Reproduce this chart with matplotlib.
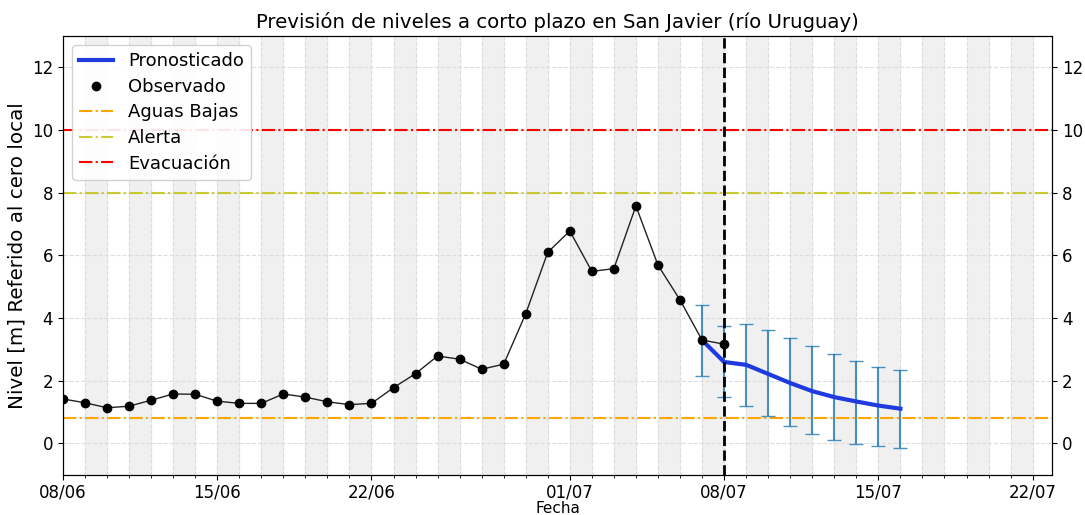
""" Forecast plot for San Javier (rio Uruguay) """
import numpy as np
import matplotlib
import matplotlib.pyplot as plt
import matplotlib.dates as mdates
import pandas as pd

matplotlib.use('Agg')

# observed levels, daily from 08/06
obs_start = '2023-06-08'
obs_values = [1.42, 1.30, 1.14, 1.19, 1.38, 1.58, 1.57, 1.35, 1.28, 1.28,
              1.58, 1.48, 1.33, 1.24, 1.28, 1.78, 2.23, 2.79, 2.69, 2.37,
              2.53, 4.14, 6.10, 6.78, 5.49, 5.58, 7.58, 5.69, 4.58, 3.30, 3.17]

# forecast, daily from 07/07
fc_start = '2023-07-07'
fc_values = [3.30, 2.60, 2.51, 2.22, 1.93, 1.67, 1.48, 1.34, 1.21, 1.11]
fc_upper = [4.41, 3.74, 3.82, 3.61, 3.37, 3.10, 2.85, 2.62, 2.43, 2.34]
fc_lower = [2.16, 1.47, 1.21, 0.89, 0.57, 0.30, 0.12, -0.01, -0.09, -0.15]

aguas_bajas = 0.81
alerta = 8.0
evacuacion = 10.0
ref_date = '2023-07-08'

obs_dates = pd.date_range(obs_start, periods=len(obs_values), freq='D')
fc_dates = pd.date_range(fc_start, periods=len(fc_values), freq='D')
fc = np.array(fc_values)
err = [fc - np.array(fc_lower), np.array(fc_upper) - fc]

x0 = pd.Timestamp(obs_start)
x1 = x0 + pd.Timedelta(hours=44.9 * 24)

fig, ax = plt.subplots(figsize=(10.85, 5.15), dpi=100)
fig.subplots_adjust(left=0.058, right=0.97, top=0.93, bottom=0.078)

# alternating grey day bands
for d in pd.date_range(x0, x1, freq='D')[1::2]:
    ax.axvspan(d, d + pd.Timedelta(days=1), color='#f0f0f0', zorder=0)

ax.errorbar(fc_dates, fc, yerr=err, fmt='none', ecolor='#1f77b4', alpha=0.8,
            elinewidth=1.5, capsize=5, zorder=3)
ax.plot(fc_dates, fc, color='#1f3be0', lw=3, label='Pronosticado', zorder=4)
ax.plot(obs_dates, obs_values, color='#222222', lw=1, zorder=4)
ax.plot(obs_dates, obs_values, 'o', color='black', ms=6, label='Observado', zorder=5)

ax.axhline(aguas_bajas, color='orange', ls='-.', lw=1.5, label='Aguas Bajas')
ax.axhline(alerta, color='#bfbf00', ls='-.', lw=1.5, alpha=0.8, label='Alerta')
ax.axhline(evacuacion, color='red', ls='-.', lw=1.5, label='Evacuación')
ax.axvline(pd.Timestamp(ref_date), color='black', ls='--', lw=2, zorder=6)

ax.set_xlim(x0, x1)
ax.set_ylim(-1, 13)
ax.set_yticks(np.arange(0, 13, 2))
ax.xaxis.set_major_locator(mdates.DayLocator(bymonthday=[1, 8, 15, 22]))
ax.xaxis.set_major_formatter(mdates.DateFormatter('%d/%m'))
ax.xaxis.set_minor_locator(mdates.DayLocator())
ax.tick_params(axis='both', which='major', labelsize=12)
ax.tick_params(axis='x', which='major', pad=2.5)
ax.grid(True, which='major', axis='y', ls='--', color='#dddddd')
ax.grid(True, which='both', axis='x', ls='--', color='#dddddd')
ax.set_axisbelow(True)

ax2 = ax.twinx()
ax2.set_ylim(ax.get_ylim())
ax2.set_yticks(np.arange(0, 13, 2))
ax2.tick_params(labelsize=12)

ax.set_title('Previsión de niveles a corto plazo en San Javier (río Uruguay)', fontsize=14.2)
ax.set_ylabel('Nivel [m] Referido al cero local', fontsize=14.3)
ax.set_xlabel('Fecha', fontsize=11, labelpad=0)
ax.legend(loc='upper left', fontsize=13, framealpha=0.9, labelspacing=0.42,
          handlelength=1.9)

fig.savefig('out.png')
plt.close()
